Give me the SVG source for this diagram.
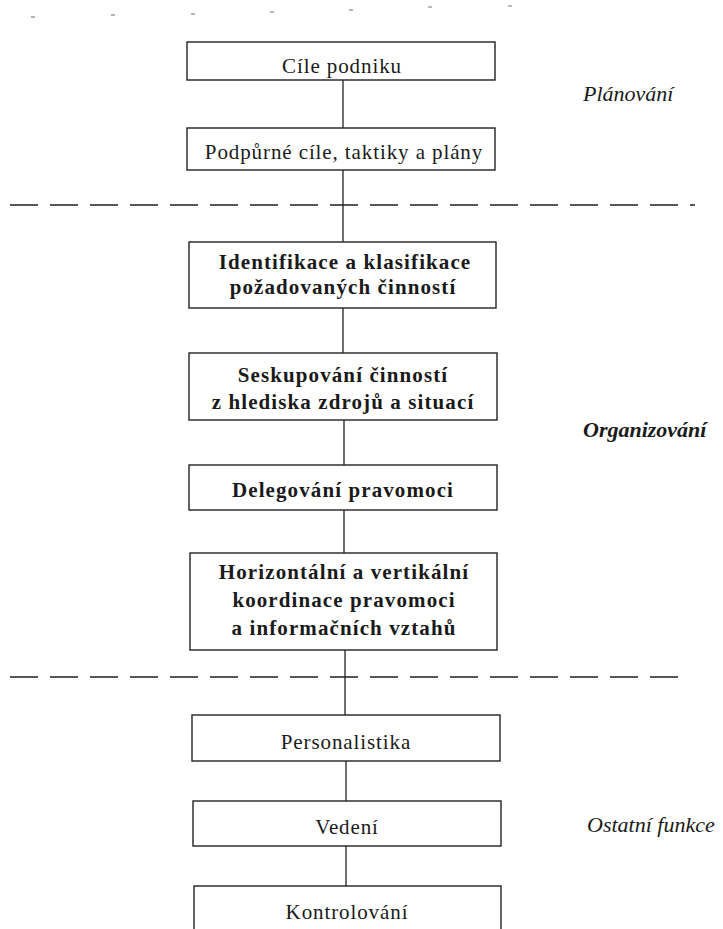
<svg xmlns="http://www.w3.org/2000/svg" width="723" height="929" viewBox="0 0 723 929">
<style>
.box{fill:#fff;stroke:#222;stroke-width:1.4}
.t{font-family:"Liberation Serif","Times New Roman",serif;font-size:21px;fill:#1a1a1a;text-anchor:middle;letter-spacing:0.9px}
.b{font-weight:bold;letter-spacing:1.1px}
.lab{font-family:"Liberation Serif","Times New Roman",serif;font-size:22px;font-style:italic;fill:#1a1a1a}
.sep{stroke:#222;stroke-width:1.3;stroke-dasharray:28 12;fill:none}
.con{stroke:#222;stroke-width:1.3;fill:none}
.tick{stroke:#888;stroke-width:1.2}
</style>
<rect width="723" height="929" fill="#fff"/>
<g id="scan-marks">
<line class="tick" x1="31" y1="17" x2="35" y2="17"/>
<line class="tick" x1="111" y1="15" x2="115" y2="15"/>
<line class="tick" x1="191" y1="14" x2="195" y2="14"/>
<line class="tick" x1="270" y1="12" x2="274" y2="12"/>
<line class="tick" x1="349" y1="10" x2="353" y2="10"/>
<line class="tick" x1="428" y1="7" x2="432" y2="7"/>
<line class="tick" x1="508" y1="6" x2="512" y2="6"/>
</g>
<g id="separators">
<line class="sep" x1="10" y1="205" x2="695" y2="205"/>
<line class="sep" x1="10" y1="677" x2="682" y2="677"/>
</g>
<g id="connectors">
<line class="con" x1="343" y1="80" x2="343" y2="128"/>
<line class="con" x1="343" y1="170" x2="343" y2="242"/>
<line class="con" x1="343" y1="308" x2="343" y2="353"/>
<line class="con" x1="344" y1="420" x2="344" y2="465"/>
<line class="con" x1="344" y1="510" x2="344" y2="553"/>
<line class="con" x1="345" y1="650" x2="345" y2="715"/>
<line class="con" x1="346" y1="761" x2="346" y2="801"/>
<line class="con" x1="346" y1="846" x2="346" y2="886"/>
</g>
<g id="n1"><rect class="box" x="187" y="42" width="308" height="38"/><text class="t" x="342" y="73">Cíle podniku</text></g>
<g id="n2"><rect class="box" x="187" y="128" width="308" height="42"/><text class="t" x="344" y="159">Podpůrné cíle, taktiky a plány</text></g>
<g id="n3"><rect class="box" x="189" y="242" width="307" height="66"/><text class="t b" x="345" y="269">Identifikace a klasifikace</text><text class="t b" x="343" y="294">požadovaných činností</text></g>
<g id="n4"><rect class="box" x="189" y="353" width="308" height="67"/><text class="t b" x="343" y="382">Seskupování činností</text><text class="t b" x="343" y="409">z hlediska zdrojů a situací</text></g>
<g id="n5"><rect class="box" x="189" y="465" width="308" height="45"/><text class="t b" x="343" y="497">Delegování pravomoci</text></g>
<g id="n6"><rect class="box" x="190" y="553" width="307" height="97"/><text class="t b" x="344" y="579">Horizontální a vertikální</text><text class="t b" x="344" y="607">koordinace pravomoci</text><text class="t b" x="344" y="635">a informačních vztahů</text></g>
<g id="n7"><rect class="box" x="192" y="715" width="308" height="46"/><text class="t" x="346" y="749">Personalistika</text></g>
<g id="n8"><rect class="box" x="193" y="801" width="308" height="45"/><text class="t" x="347" y="834">Vedení</text></g>
<g id="n9"><rect class="box" x="194" y="886" width="307" height="60"/><text class="t" x="347" y="919">Kontrolování</text></g>
<g id="labels">
<text class="lab" x="583" y="101">Plánování</text>
<text class="lab" x="583" y="437" font-weight="bold">Organizování</text>
<text class="lab" x="587" y="832">Ostatní funkce</text>
</g>
</svg>
